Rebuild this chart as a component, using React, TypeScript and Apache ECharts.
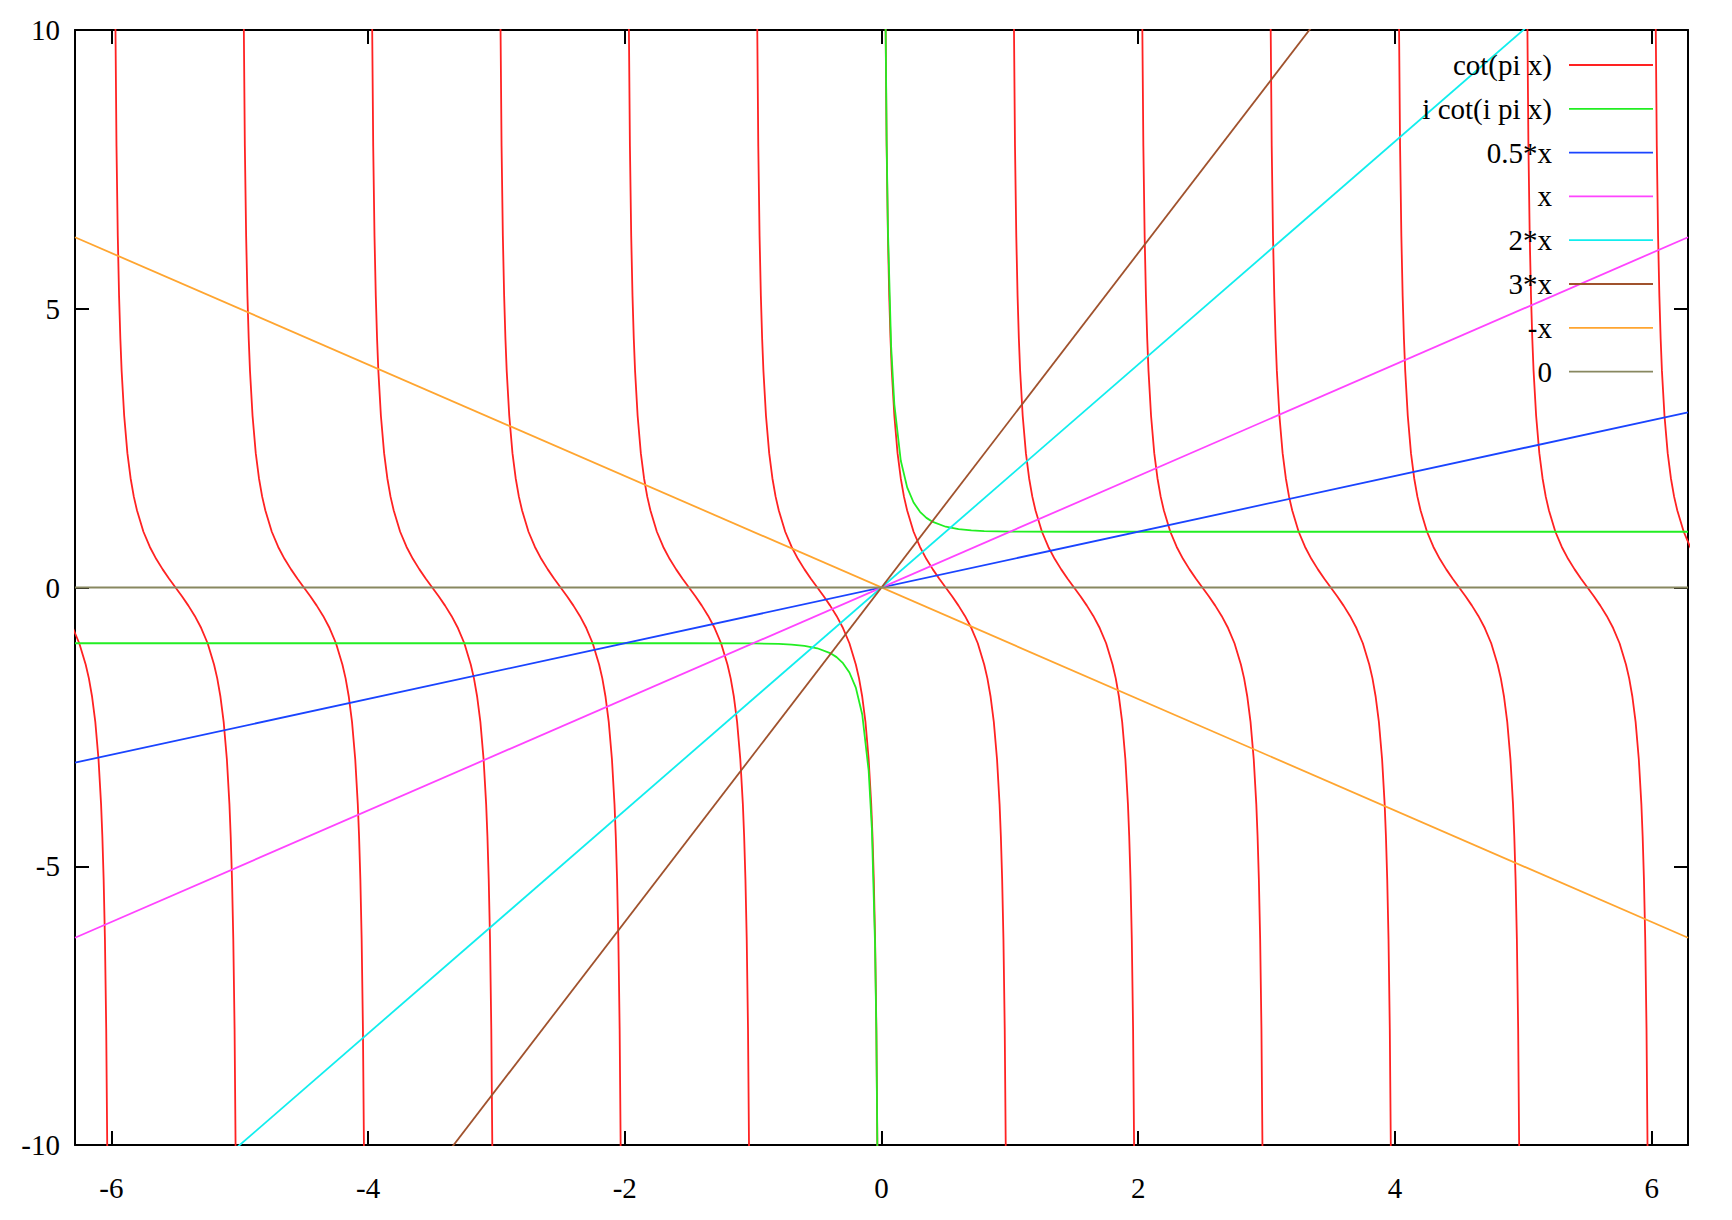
import React, { useEffect, useRef } from "react";
import * as echarts from "echarts";

// ---- data ----
const X_MIN = -6.2832;
const X_MAX = 6.2832;
const X_TICKS = [-6, -4, -2, 0, 2, 4, 6];
const Y_TICKS = [-10, -5, 0, 5, 10];

const SERIES_NAMES = ["cot(pi x)", "i cot(i pi x)", "0.5*x", "x", "2*x", "3*x", "-x", "0"];
const SERIES_COLORS = ["#ff2222", "#22ee22", "#1a44ff", "#ff44ff", "#11eeee", "#a0522d", "#ffa530", "#888860"];

// one period of the cot(pi x) branch: offset within the period and value
const COT_OFFSETS = [0.01, 0.02, 0.03, 0.04, 0.05, 0.06, 0.07, 0.08, 0.1, 0.125, 0.15, 0.175, 0.2, 0.25, 0.3, 0.35, 0.4, 0.45, 0.5,
  0.55, 0.6, 0.65, 0.7, 0.75, 0.8, 0.825, 0.85, 0.875, 0.9, 0.92, 0.93, 0.94, 0.95, 0.96, 0.97, 0.98, 0.99];
const COT_VALUES = [31.82, 15.89, 10.58, 7.92, 6.31, 5.24, 4.47, 3.89, 3.08, 2.41, 1.96, 1.63, 1.38, 1.0, 0.727, 0.51, 0.325, 0.158, 0,
  -0.158, -0.325, -0.51, -0.727, -1.0, -1.38, -1.63, -1.96, -2.41, -3.08, -3.89, -4.47, -5.24, -6.31, -7.92, -10.58, -15.89, -31.82];
const PERIOD_STARTS = [-7, -6, -5, -4, -3, -2, -1, 0, 1, 2, 3, 4, 5, 6];

// i cot(i pi x): two branches
const COTH_NEG_X = [-6.2832, -2, -1.5, -1, -0.8, -0.7, -0.6, -0.5, -0.4, -0.35, -0.3, -0.25, -0.2, -0.15, -0.1, -0.075, -0.05, -0.04, -0.03, -0.02];
const COTH_NEG_Y = [-1, -1, -1.0002, -1.0037, -1.013, -1.025, -1.047, -1.09, -1.176, -1.249, -1.358, -1.525, -1.796, -2.278, -3.287, -4.32, -6.42, -8.0, -10.64, -15.94];
const COTH_POS_X = [0.02, 0.03, 0.04, 0.05, 0.075, 0.1, 0.15, 0.2, 0.25, 0.3, 0.35, 0.4, 0.5, 0.6, 0.7, 0.8, 1, 1.5, 2, 6.2832];
const COTH_POS_Y = [15.94, 10.64, 8.0, 6.42, 4.32, 3.287, 2.278, 1.796, 1.525, 1.358, 1.249, 1.176, 1.09, 1.047, 1.025, 1.013, 1.0037, 1.0002, 1, 1];

// straight lines: values at the left and right ends of the x range
const LINE_X = [X_MIN, X_MAX];
const HALF_X_Y = [-3.1416, 3.1416];
const X_Y = [-6.2832, 6.2832];
const TWO_X_Y = [-12.566, 12.566];
const THREE_X_Y = [-18.85, 18.85];
const NEG_X_Y = [6.2832, -6.2832];
const ZERO_Y = [0, 0];

// ---- layout ----
const W = 1732;
const H = 1220;
const GRID = { left: 75, top: 30, right: 44, bottom: 75 };
const FONT = "'Liberation Serif', 'Times New Roman', serif";
const FONT_SIZE = 29;
const LEGEND_TEXT_RIGHT = 1552;
const LEGEND_LINE_X1 = 1569;
const LEGEND_LINE_X2 = 1653;
const LEGEND_TOP = 65;
const LEGEND_STEP = 43.8;

export default function App() {
  const ref = useRef<HTMLDivElement>(null);

  useEffect(() => {
    if (!ref.current) return;
    const chart = echarts.init(ref.current, undefined, { renderer: "svg" });

    const lw = 1.8;
    const series: any[] = [];
    PERIOD_STARTS.forEach((k, i) => {
      series.push({
        id: "cot" + i,
        name: SERIES_NAMES[0],
        type: "line",
        showSymbol: false,
        clip: true,
        lineStyle: { color: SERIES_COLORS[0], width: lw },
        data: COT_OFFSETS.map((u, j) => [k + u, COT_VALUES[j]]),
      });
    });
    series.push({
      id: "coth-neg", name: SERIES_NAMES[1], type: "line", showSymbol: false, clip: true,
      lineStyle: { color: SERIES_COLORS[1], width: lw },
      data: COTH_NEG_X.map((x, j) => [x, COTH_NEG_Y[j]]),
    });
    series.push({
      id: "coth-pos", name: SERIES_NAMES[1], type: "line", showSymbol: false, clip: true,
      lineStyle: { color: SERIES_COLORS[1], width: lw },
      data: COTH_POS_X.map((x, j) => [x, COTH_POS_Y[j]]),
    });
    const lines = [HALF_X_Y, X_Y, TWO_X_Y, THREE_X_Y, NEG_X_Y, ZERO_Y];
    lines.forEach((ys, i) => {
      series.push({
        id: "line" + i, name: SERIES_NAMES[i + 2], type: "line", showSymbol: false, clip: true,
        lineStyle: { color: SERIES_COLORS[i + 2], width: lw },
        data: LINE_X.map((x, j) => [x, ys[j]]),
      });
    });

    const graphic: any[] = [];
    SERIES_NAMES.forEach((name, i) => {
      const y = LEGEND_TOP + i * LEGEND_STEP;
      graphic.push({
        type: "text",
        x: LEGEND_TEXT_RIGHT,
        y,
        style: { text: name, font: `${FONT_SIZE}px ${FONT}`, fill: "#000", textAlign: "right", textVerticalAlign: "middle" },
        z: 100,
      });
      graphic.push({
        type: "line",
        shape: { x1: LEGEND_LINE_X1, y1: y, x2: LEGEND_LINE_X2, y2: y },
        style: { stroke: SERIES_COLORS[i], lineWidth: lw },
        z: 100,
      });
    });

    const xBase = {
      type: "value",
      min: X_MIN,
      max: X_MAX,
      splitLine: { show: false },
      axisLine: { show: true, onZero: false, lineStyle: { color: "#000", width: 2 } },
      axisTick: { show: true, inside: true, length: 14, customValues: X_TICKS, lineStyle: { color: "#000", width: 2 } },
    };
    const yBase = {
      type: "value",
      min: -10,
      max: 10,
      interval: 5,
      splitLine: { show: false },
      axisLine: { show: true, onZero: false, lineStyle: { color: "#000", width: 2 } },
      axisTick: { show: true, inside: true, length: 14, lineStyle: { color: "#000", width: 2 } },
    };

    chart.setOption({
      animation: false,
      backgroundColor: "#fff",
      grid: { ...GRID, show: false },
      xAxis: [
        {
          ...xBase,
          position: "bottom",
          axisLabel: { customValues: X_TICKS, margin: 28, color: "#000", fontFamily: FONT, fontSize: FONT_SIZE },
        },
        { ...xBase, position: "top", axisLabel: { show: false } },
      ],
      yAxis: [
        {
          ...yBase,
          position: "left",
          axisLabel: { margin: 15, color: "#000", fontFamily: FONT, fontSize: FONT_SIZE, customValues: Y_TICKS },
        },
        { ...yBase, position: "right", axisLabel: { show: false } },
      ],
      series,
      graphic,
    });

    return () => chart.dispose();
  }, []);

  return <div ref={ref} style={{ position: "fixed", left: 0, top: 0, width: W, height: H }} />;
}
